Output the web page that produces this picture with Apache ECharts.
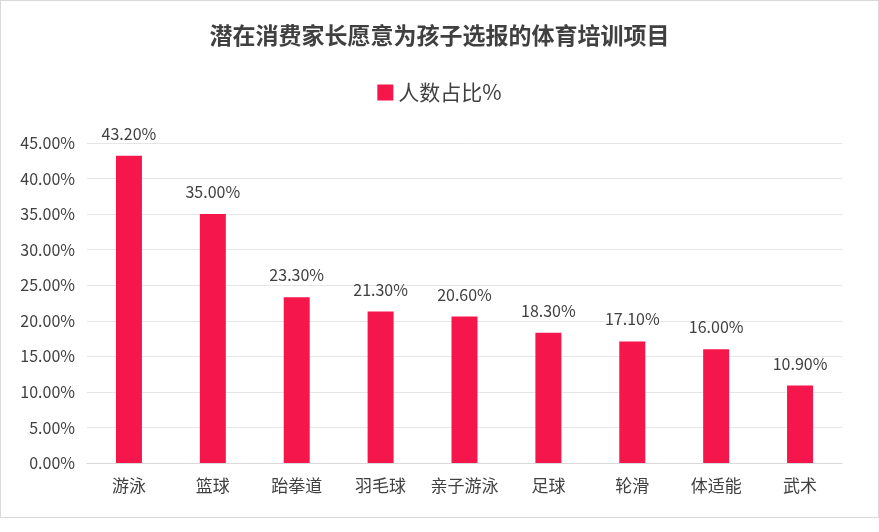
<!DOCTYPE html>
<html>
<head>
<meta charset="utf-8">
<script src="https://cdn.jsdelivr.net/npm/echarts@6/dist/echarts.min.js"></script>
<style>
  html, body { margin: 0; padding: 0; background: #fff; }
  #chart { width: 877px; height: 516px; border: 1px solid #d9d9d9; }
</style>
</head>
<body>
<div id="chart"></div>
<script>
const categories = ['游泳', '篮球', '跆拳道', '羽毛球', '亲子游泳', '足球', '轮滑', '体适能', '武术'];
const shares = [43.2, 35.0, 23.3, 21.3, 20.6, 18.3, 17.1, 16.0, 10.9];
const seriesName = '人数占比%';

const myChart = echarts.init(document.getElementById('chart'));
const font = '"Microsoft YaHei", "Noto Sans CJK SC", sans-serif';

myChart.setOption({
  textStyle: { fontFamily: font },
  title: {
    text: '潜在消费家长愿意为孩子选报的体育培训项目',
    left: 'center',
    top: 18,
    textStyle: { fontSize: 23, fontWeight: 'bold', color: '#404040', fontFamily: font },
  },
  legend: {
    data: [seriesName],
    top: 76,
    left: 'center',
    icon: 'rect',
    itemWidth: 16,
    itemHeight: 16,
    textStyle: { fontSize: 21, color: '#404040', fontFamily: font },
  },
  grid: { left: 86, right: 36, top: 142, bottom: 54 },
  xAxis: {
    type: 'category',
    data: categories,
    axisTick: { show: false },
    axisLine: { lineStyle: { color: '#d9d9d9' } },
    axisLabel: { fontSize: 17, color: '#404040', margin: 14, interval: 0 },
  },
  yAxis: {
    type: 'value',
    min: 0,
    max: 45,
    interval: 5,
    axisLabel: {
      fontSize: 16,
      color: '#404040',
      margin: 12,
      formatter: function(v) { return v.toFixed(2) + '%'; },
    },
    splitLine: { lineStyle: { color: '#e6e6e6' } },
  },
  series: [{
    type: 'bar',
    name: seriesName,
    data: shares,
    barWidth: 26,
    itemStyle: { color: '#F5174B' },
    label: {
      show: true,
      position: 'top',
      distance: 14,
      fontSize: 16,
      color: '#404040',
      formatter: function(p) { return p.value.toFixed(2) + '%'; },
    },
  }],
});
</script>
</body>
</html>
